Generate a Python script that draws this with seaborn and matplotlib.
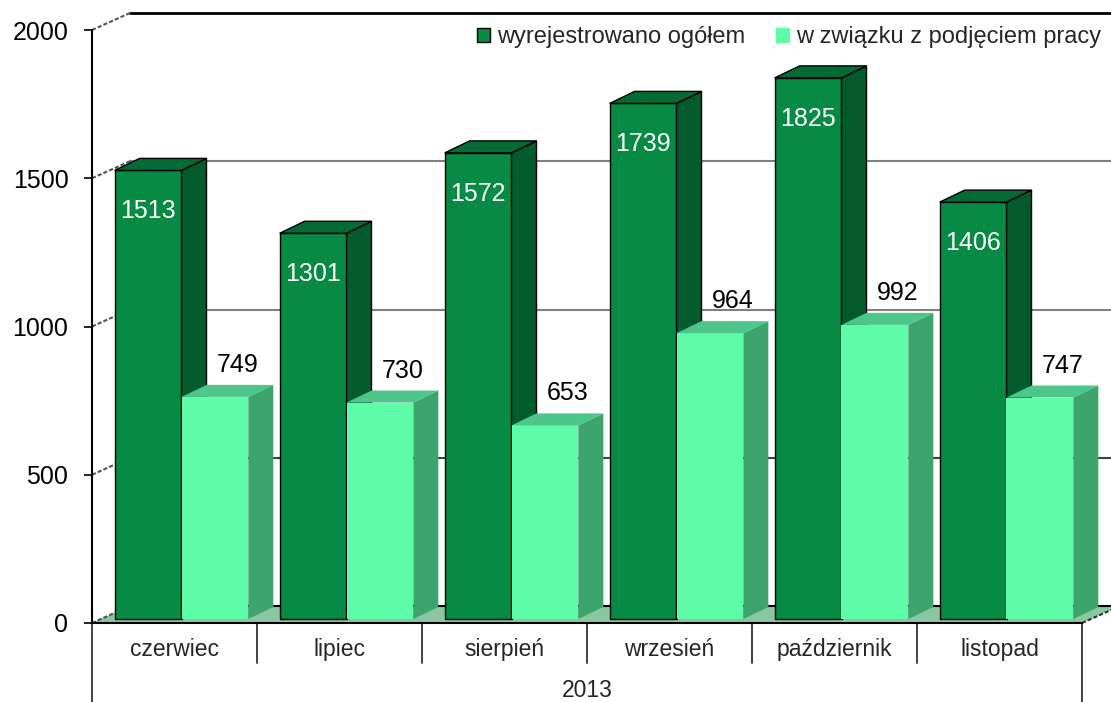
import pandas as pd
import matplotlib
matplotlib.use("Agg")
import matplotlib.pyplot as plt
import seaborn as sns
from matplotlib.patches import Polygon, Patch

# data
months = ["czerwiec", "lipiec", "sierpień", "wrzesień", "październik", "listopad"]
wyrejestrowano = [1513, 1301, 1572, 1739, 1825, 1406]
podjecie_pracy = [749, 730, 653, 964, 992, 747]
series_names = ["wyrejestrowano ogółem", "w związku z podjęciem pracy"]
y_ticks = [0, 500, 1000, 1500, 2000]
year_label = "2013"

df = pd.DataFrame({
    "miesiac": months * 2,
    "liczba": wyrejestrowano + podjecie_pracy,
    "seria": [series_names[0]] * len(months) + [series_names[1]] * len(months),
})

# colours (front, side, top)
dark = ("#078a44", "#035a2b", "#056b35")
light = ("#5efca8", "#3da46e", "#4cc68a")
floor_col = "#8bc6a3"

sns.set_style("white")
plt.rcParams["font.family"] = ["Liberation Sans", "DejaVu Sans"]

W, H = 1111, 702
fig = plt.figure(figsize=(W / 100, H / 100), dpi=100)
ax = fig.add_axes([92 / W, 79 / H, 990 / W, 593 / H])

sns.barplot(data=df, x="miesiac", y="liczba", hue="seria", order=months,
            hue_order=series_names, palette=[dark[0], light[0]], width=0.81,
            saturation=1, errorbar=None, legend=False, ax=ax)

ax.set_xlim(-0.5, 5.5)
ax.set_ylim(0, 2000)

# pixel -> data scale, 3d depth offsets
px_x = 990 / 6
px_y = 593 / 2000
WX, WY = 38 / px_x, 17 / px_y      # wall depth
FX, FY = 7 / px_x, 4 / px_y        # bar front offset
BX, BY = 25 / px_x, 12 / px_y      # bar depth

# floor
ax.add_patch(Polygon([(-0.5, 0), (5.5, 0), (5.5 + WX, WY), (-0.5 + WX, WY)],
                     closed=True, fc=floor_col, ec="none", zorder=1, clip_on=False))
ax.plot([5.5, 5.5 + WX], [0, WY], color="#333333", lw=1.5, ls=(0, (2, 1)),
        zorder=1.5, clip_on=False)

# back wall gridlines + left wall slants
for v in y_ticks:
    col = "black" if v in (0, 2000) else ("#404040" if v == 500 else "#808080")
    lw = 2 if v == 2000 else 1.5
    ax.plot([-0.5 + WX, 5.5 + WX + 0.3], [v + WY, v + WY], color=col, lw=lw,
            zorder=2, clip_on=False)
    ax.plot([-0.5, -0.5 + WX], [v, v + WY], color="#555555", lw=1.5,
            ls=(0, (2, 1)), zorder=2, clip_on=False)

# 3d bars
styles = [dark, light]
for s, cont in enumerate(ax.containers):
    for i, bar in enumerate(cont):
        fc, side, top = styles[s]
        z = 10 + 2 * i + s
        x0 = bar.get_x() + FX
        w = bar.get_width()
        h = bar.get_height()
        bar.set_x(x0)
        bar.set_y(FY)
        bar.set_zorder(z)
        if s == 0:
            bar.set_edgecolor("black")
            bar.set_linewidth(1)
            ec, lw = "black", 1
        else:
            bar.set_edgecolor("none")
            ec, lw = "none", 0
        y1 = h + FY
        ax.add_patch(Polygon([(x0 + w, FY), (x0 + w + BX, FY + BY),
                              (x0 + w + BX, y1 + BY), (x0 + w, y1)],
                             closed=True, fc=side, ec=ec, lw=lw, zorder=z, clip_on=False))
        ax.add_patch(Polygon([(x0, y1), (x0 + w, y1), (x0 + w + BX, y1 + BY),
                              (x0 + BX, y1 + BY)],
                             closed=True, fc=top, ec=ec, lw=lw, zorder=z, clip_on=False))
        if s == 0:
            ax.text(x0 + w / 2, y1 - 41 / px_y, f"{h:.0f}", color="white",
                    ha="center", va="center", fontsize=18, zorder=30)
        else:
            ax.text(x0 + w / 2 + 23 / px_x, y1 + 32 / px_y, f"{h:.0f}",
                    color="black", ha="center", va="center", fontsize=18, zorder=30)

# axes styling
sns.despine(ax=ax)
for sp in ("left", "bottom"):
    ax.spines[sp].set_color("black")
    ax.spines[sp].set_linewidth(1.5)
    ax.spines[sp].set_zorder(40)
ax.set_yticks(y_ticks)
ax.tick_params(axis="y", direction="out", length=6, width=1.2, pad=11,
               labelsize=18, colors="black", left=True)
ax.set_xticks([])
ax.set_xlabel("")
ax.set_ylabel("")

# category table below the axis
for k in range(len(months) + 1):
    xb = -0.5 + k
    yb = -135 if 0 < k < len(months) else -270
    ax.plot([xb, xb], [0, yb], color="#333333", lw=1.3, clip_on=False, zorder=40)
for i, m in enumerate(months):
    ax.text(i, -91, m, ha="center", va="center", fontsize=16.5, clip_on=False)
ax.text((len(months) - 1) / 2, -226, year_label, ha="center", va="center",
        fontsize=16.5, clip_on=False)

# legend
handles = [Patch(fc=dark[0], ec="black", lw=1), Patch(fc=light[0], ec=light[0])]
fig.legend(handles=handles, labels=series_names, loc="center right",
           bbox_to_anchor=(1122 / W, 1 - 37 / H), ncol=2, frameon=False,
           fontsize=17, handlelength=0.55, handleheight=0.55,
           handletextpad=0.3, columnspacing=1.3)

fig.savefig("out.png", dpi=100)
